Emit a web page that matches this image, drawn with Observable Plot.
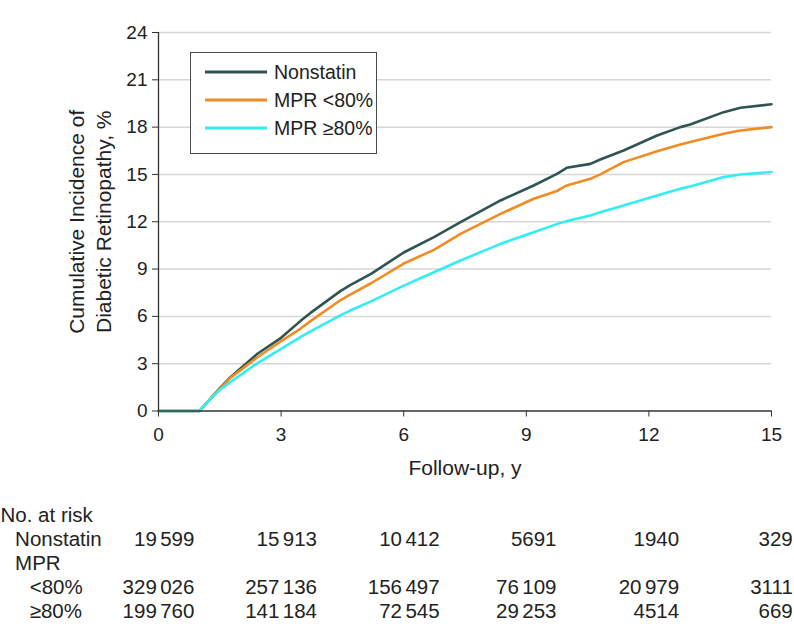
<!DOCTYPE html>
<html>
<head>
<meta charset="utf-8">
<script src="https://cdn.jsdelivr.net/npm/d3@7"></script>
<script src="https://cdn.jsdelivr.net/npm/@observablehq/plot@0.6"></script>
<style>
  body { margin: 0; background: #fff; font-family: "Liberation Sans", Arial, sans-serif; color: #222; }
  #wrap { position: relative; width: 794px; height: 640px; overflow: hidden; }
  #wrap svg { display: block; }
  #legend { position: absolute; left: 190px; top: 52px; width: 185px; height: 95px;
            border: 1.5px solid #4a4a4a; background: #fff; box-sizing: content-box; padding-top: 5px; }
  .lrow { display: flex; align-items: center; height: 28px; }
  .lrow svg { margin-left: 14px; margin-right: 7px; }
  .lrow span { font-size: 19.5px; color: #222; }
</style>
</head>
<body>
<div id="wrap"></div>
<script>
// ---------- data ----------
const seriesNames = ["Nonstatin", "MPR <80%", "MPR ≥80%"];
const seriesColors = ["#2f5452", "#f08c24", "#33eef0"];

const years = [0, 1.0, 1.27, 1.5, 1.76, 2.42, 3.0, 3.47, 3.72, 4.45, 4.69, 5.2, 6.0, 6.74, 7.39, 8.37, 9.18, 9.75, 9.99, 10.57, 10.81, 11.38, 12.2, 12.77, 13.01, 13.83, 14.24, 15.0];
const nonstatin = [0, 0, 0.77, 1.45, 2.14, 3.63, 4.64, 5.7, 6.22, 7.6, 7.98, 8.7, 10.05, 11.02, 11.97, 13.35, 14.3, 15.04, 15.42, 15.67, 15.95, 16.52, 17.47, 18.0, 18.17, 18.95, 19.23, 19.45];
const mprLow = [0, 0, 0.77, 1.42, 2.1, 3.41, 4.43, 5.21, 5.7, 7.02, 7.38, 8.1, 9.35, 10.22, 11.23, 12.5, 13.46, 13.95, 14.3, 14.72, 15.0, 15.78, 16.47, 16.9, 17.05, 17.58, 17.79, 18.0];
const mprHigh = [0, 0, 0.75, 1.35, 1.83, 3.03, 3.94, 4.68, 5.05, 6.06, 6.37, 6.95, 7.95, 8.8, 9.54, 10.6, 11.34, 11.85, 12.04, 12.4, 12.6, 13.03, 13.67, 14.1, 14.24, 14.83, 15.0, 15.15];

const xTicks = [0, 3, 6, 9, 12, 15];
const yTicks = [0, 3, 6, 9, 12, 15, 18, 21, 24];
const xTitle = "Follow-up, y";
const yTitle1 = "Cumulative Incidence of";
const yTitle2 = "Diabetic Retinopathy, %";

const riskRows = ["No. at risk", "Nonstatin", "MPR", "<80%", "≥80%"];
const riskIndent = [0, 1, 1, 2, 2];
const riskTimes = [0, 3, 6, 9, 12, 15];
const riskNonstatin = [19599, 15913, 10412, 5691, 1940, 329];
const riskMprLow = [329026, 257136, 156497, 76109, 20979, 3111];
const riskMprHigh = [199760, 141184, 72545, 29253, 4514, 669];

// ---------- build ----------
const FONT = '"Liberation Sans", Arial, sans-serif';
const valuesBySeries = [nonstatin, mprLow, mprHigh];
const long = [];
valuesBySeries.forEach((vals, s) => {
  vals.forEach((v, i) => long.push({series: seriesNames[s], t: years[i], v}));
});

const W = 794, ML = 158, MR = 23;

const main = Plot.plot({
  width: W, height: 490,
  marginLeft: ML, marginRight: MR, marginTop: 32, marginBottom: 79.5,
  style: {fontFamily: FONT, fontSize: "19px", color: "#222", background: "transparent", overflow: "visible"},
  x: {domain: [0, 15]},
  y: {domain: [0, 24]},
  color: {domain: seriesNames, range: seriesColors},
  marks: [
    Plot.ruleY(yTicks.filter(d => d > 0), {stroke: "#d6d6d6", strokeWidth: 1.5}),
    Plot.line(long, {x: "t", y: "v", stroke: "series", z: "series", strokeWidth: 2.6, strokeLinejoin: "round"}),
    Plot.ruleX([0], {stroke: "#333", strokeWidth: 1.3}),
    Plot.ruleY([0], {stroke: "#333", strokeWidth: 1.3}),
    Plot.axisY({ticks: yTicks, tickSize: 6, tickPadding: 5, label: null, fontSize: 19, stroke: "#333"}),
    Plot.axisX({ticks: xTicks, tickSize: 6, tickPadding: 10, label: null, fontSize: 19, stroke: "#333"}),
    Plot.text([xTitle], {frameAnchor: "bottom", dy: 63.5, lineAnchor: "bottom", fontSize: 21, fill: "#222"}),
    Plot.text([yTitle1], {frameAnchor: "left", textAnchor: "middle", rotate: -90, dx: -74.7, lineAnchor: "bottom", fontSize: 21, fill: "#222"}),
    Plot.text([yTitle2], {frameAnchor: "left", textAnchor: "middle", rotate: -90, dx: -48, lineAnchor: "bottom", fontSize: 21, fill: "#222"})
  ]
});

// at-risk table
const fmt = n => n >= 10000 ? d3.format(",")(n).replace(/,/g, "\u2006") : String(n);
const riskSeries = [riskNonstatin, riskMprLow, riskMprHigh];
const riskRowFor = ["Nonstatin", "<80%", "≥80%"];
const TABLE_FS = 20.5;
const ctx = document.createElement("canvas").getContext("2d");
ctx.font = `${TABLE_FS}px ${FONT}`;

const numberMarks = riskTimes.map((t, j) => {
  const cells = riskSeries.map((arr, s) => ({t, row: riskRowFor[s], label: fmt(arr[j])}));
  const maxW = d3.max(cells, c => ctx.measureText(c.label).width);
  return Plot.text(cells, {x: "t", y: "row", text: "label", textAnchor: "end", lineAnchor: "bottom",
                           dx: maxW / 2, fontSize: TABLE_FS, fill: "#222"});
});
const labelMarks = [0, 1, 2].map(level => {
  const rows = riskRows.filter((r, i) => riskIndent[i] === level);
  return Plot.text(rows, {y: d => d, text: d => d, frameAnchor: "left", textAnchor: "start", lineAnchor: "bottom",
                          dx: -ML + level * 14.6, fontSize: TABLE_FS, fill: "#222"});
});

const table = Plot.plot({
  width: W, height: 150,
  marginLeft: ML, marginRight: MR, marginTop: 30, marginBottom: 22,
  style: {fontFamily: FONT, color: "#222", background: "transparent", overflow: "visible"},
  x: {domain: [0, 15], axis: null},
  y: {type: "point", domain: riskRows, padding: 0, axis: null},
  marks: [...labelMarks, ...numberMarks]
});

const wrap = document.getElementById("wrap");
wrap.appendChild(main);
wrap.appendChild(table);

// legend
const legend = document.createElement("div");
legend.id = "legend";
seriesNames.forEach((name, i) => {
  const row = document.createElement("div");
  row.className = "lrow";
  row.innerHTML = `<svg width="62" height="6"><line x1="0" x2="62" y1="3" y2="3" stroke="${seriesColors[i]}" stroke-width="3.2"/></svg><span>${name.replace("<", "&lt;")}</span>`;
  legend.appendChild(row);
});
wrap.appendChild(legend);
</script>
</body>
</html>
